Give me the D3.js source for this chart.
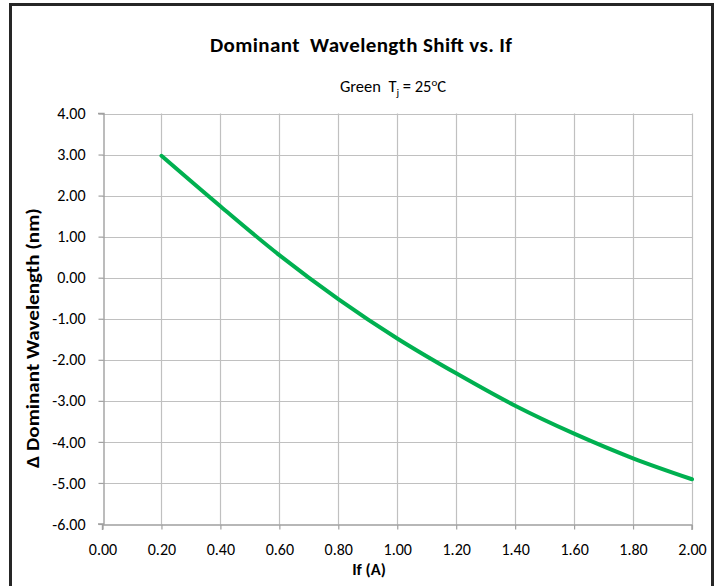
<!DOCTYPE html>
<html>
<head>
<meta charset="utf-8">
<script src="https://cdn.jsdelivr.net/npm/d3@7"></script>
<style>
  html, body { margin: 0; padding: 0; background: #fff; }
  svg { display: block; }
  text { font-family: Carlito, Lato, "Open Sans", sans-serif; fill: #000; }
</style>
</head>
<body>
<svg id="chart" width="724" height="586"></svg>
<script>
// Data
const currentA = [0.2, 0.4, 0.6, 0.8, 1.0, 1.2, 1.4, 1.6, 1.8, 2.0];
const shiftNm = [2.97, 1.74, 0.55, -0.52, -1.48, -2.33, -3.12, -3.80, -4.40, -4.91];
const xTicks = [0, 0.2, 0.4, 0.6, 0.8, 1.0, 1.2, 1.4, 1.6, 1.8, 2.0];
const yTicks = [4, 3, 2, 1, 0, -1, -2, -3, -4, -5, -6];

(function () {
const svg = d3.select("#chart");
const pL = 102.5, pR = 692, pT = 113.5, pB = 524;

const x = d3.scaleLinear().domain([0, 2]).range([pL, pR]);
const y = d3.scaleLinear().domain([-6, 4]).range([pB, pT]);

// outer border
svg.append("rect").attr("x", 10.5).attr("y", 4.5).attr("width", 702).attr("height", 600)
  .attr("fill", "#fff").attr("stroke", "#262626").attr("stroke-width", 3);

// gridlines
const grid = svg.append("g");
grid.selectAll("line.v").data(xTicks.slice(1)).join("line")
  .attr("x1", d => Math.round(x(d)) + 0.5).attr("x2", d => Math.round(x(d)) + 0.5)
  .attr("y1", pT).attr("y2", pB)
  .attr("stroke", "#c0c0c0").attr("stroke-width", 1.2);
grid.selectAll("line.h").data(yTicks.slice(0, -1)).join("line")
  .attr("y1", d => Math.round(y(d)) + 0.5).attr("y2", d => Math.round(y(d)) + 0.5)
  .attr("x1", pL).attr("x2", pR)
  .attr("stroke", "#c0c0c0").attr("stroke-width", 1.2);

// axes
const fmt = d => d.toFixed(2);
const yAxis = svg.append("g").attr("transform", `translate(${Math.round(pL) + 0.5},0)`)
  .call(d3.axisLeft(y).tickValues(yTicks).tickFormat(fmt).tickSize(5).tickPadding(13));
const xAxis = svg.append("g").attr("transform", `translate(0,${Math.round(pB) + 0.5})`)
  .call(d3.axisBottom(x).tickValues(xTicks).tickFormat(fmt).tickSize(5));
[xAxis, yAxis].forEach(a => {
  a.select(".domain").attr("stroke", "#a0a0a0").attr("stroke-width", 1.4);
  a.selectAll(".tick line").attr("stroke", "#a0a0a0").attr("stroke-width", 1.2);
  a.selectAll(".tick text").attr("font-size", 16).attr("fill", "#000")
    .attr("font-family", "Carlito, Lato, 'Open Sans', sans-serif");
});
xAxis.selectAll(".tick text").attr("y", 30.5).attr("dy", null);
xAxis.select(".domain").attr("d", `M${pL},5.5V0.5H${pR}V5.5`);
yAxis.select(".domain").attr("d", `M-5.5,${pT}H0.5V${pB}H-5.5`);

// curve
const line = d3.line().x((d, i) => x(currentA[i])).y(d => y(d)).curve(d3.curveCatmullRom.alpha(0.5));
svg.append("path").datum(shiftNm).attr("d", line)
  .attr("fill", "none").attr("stroke", "#00b050").attr("stroke-width", 4)
  .attr("stroke-linecap", "round");

// titles
svg.append("text").attr("x", 361).attr("y", 52).attr("text-anchor", "middle")
  .attr("font-size", 21).attr("font-weight", "bold").attr("xml:space", "preserve")
  .attr("textLength", 302).attr("lengthAdjust", "spacing")
  .text("Dominant  Wavelength Shift vs. If");

const sub = svg.append("text").attr("x", 393).attr("y", 92).attr("text-anchor", "middle")
  .attr("font-size", 16.5).attr("xml:space", "preserve");
sub.append("tspan").text("Green  T");
sub.append("tspan").attr("font-size", 11).attr("dy", 4).text("j");
sub.append("tspan").attr("dy", -4).text(" = 25");
sub.append("tspan").attr("font-size", 11).attr("dy", -6).text("o");
sub.append("tspan").attr("dy", 6).text("C");

svg.append("text").attr("x", 369).attr("y", 575).attr("text-anchor", "middle")
  .attr("font-size", 16.5).attr("font-weight", "bold").text("If (A)");

const yTitle = svg.append("text").attr("text-anchor", "middle")
  .attr("font-size", 17).attr("font-weight", "bold")
  .text("Δ Dominant Wavelength (nm)");
const natural = yTitle.node().getComputedTextLength() || 200;
const k = 260 / natural;
yTitle.attr("transform", `translate(39,338) rotate(-90) scale(${k},1)`);
})();
</script>
</body>
</html>
